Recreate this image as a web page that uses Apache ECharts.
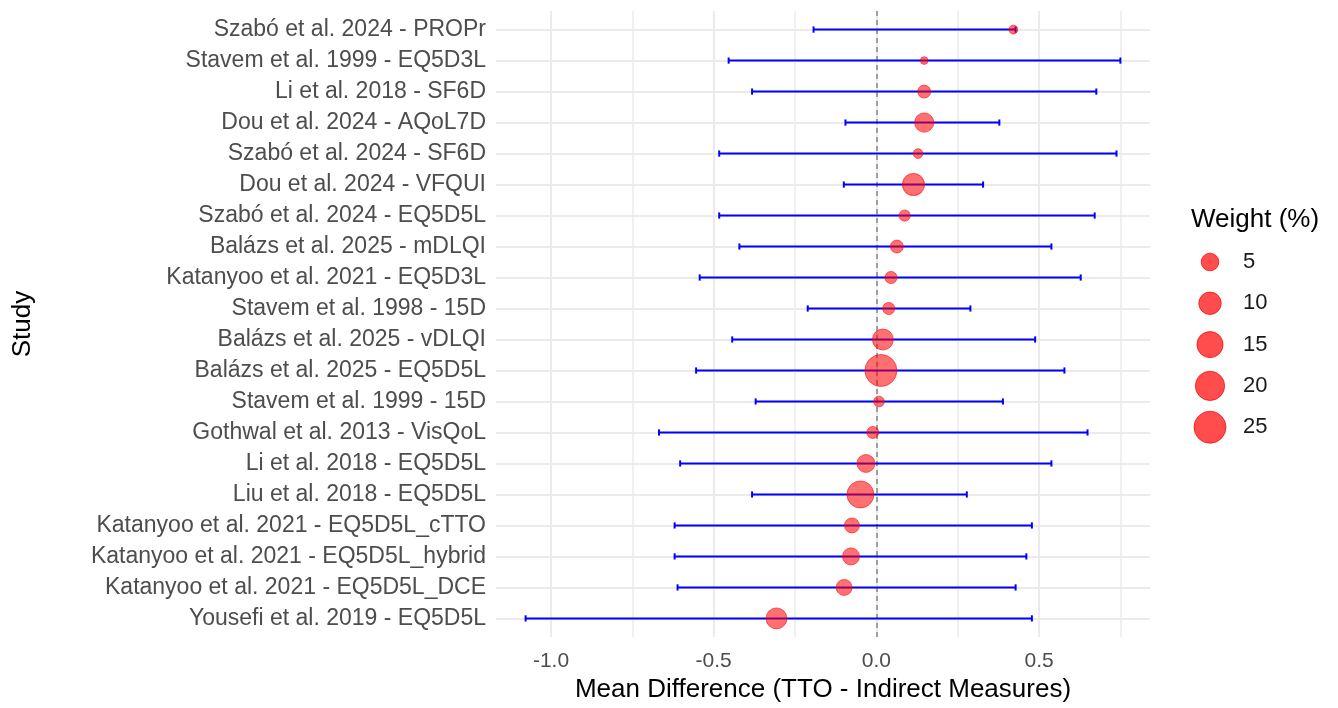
<!DOCTYPE html>
<html>
<head>
<meta charset="utf-8">
<title>Forest plot</title>
<script src="https://cdn.jsdelivr.net/npm/echarts@6.0.0/dist/echarts.min.js"></script>
<style>
  html, body { margin: 0; padding: 0; background: #fff; }
  #chart { width: 1338px; height: 708px; }
</style>
</head>
<body>
<div id="chart"></div>
<script>
// studies from top to bottom
const studies = [
  'Szabó et al. 2024 - PROPr',
  'Stavem et al. 1999 - EQ5D3L',
  'Li et al. 2018 - SF6D',
  'Dou et al. 2024 - AQoL7D',
  'Szabó et al. 2024 - SF6D',
  'Dou et al. 2024 - VFQUI',
  'Szabó et al. 2024 - EQ5D5L',
  'Balázs et al. 2025 - mDLQI',
  'Katanyoo et al. 2021 - EQ5D3L',
  'Stavem et al. 1998 - 15D',
  'Balázs et al. 2025 - vDLQI',
  'Balázs et al. 2025 - EQ5D5L',
  'Stavem et al. 1999 - 15D',
  'Gothwal et al. 2013 - VisQoL',
  'Li et al. 2018 - EQ5D5L',
  'Liu et al. 2018 - EQ5D5L',
  'Katanyoo et al. 2021 - EQ5D5L_cTTO',
  'Katanyoo et al. 2021 - EQ5D5L_hybrid',
  'Katanyoo et al. 2021 - EQ5D5L_DCE',
  'Yousefi et al. 2019 - EQ5D5L'
]
const meanDiff = [0.421, 0.147, 0.147, 0.147, 0.128, 0.114, 0.087, 0.063, 0.045, 0.038,
                  0.020, 0.014, 0.008, -0.011, -0.032, -0.049, -0.075, -0.078, -0.099, -0.307]
const ciLower  = [-0.193, -0.454, -0.382, -0.095, -0.483, -0.100, -0.483, -0.421, -0.543, -0.211,
                  -0.443, -0.554, -0.371, -0.668, -0.603, -0.382, -0.620, -0.620, -0.611, -1.078]
const ciUpper  = [0.428, 0.750, 0.676, 0.378, 0.738, 0.328, 0.671, 0.538, 0.628, 0.289,
                  0.488, 0.578, 0.389, 0.649, 0.538, 0.278, 0.478, 0.461, 0.428, 0.478]
const weights  = [0.3, 0.1, 1.8, 6.5, 0.5, 9.5, 1.0, 1.8, 1.4, 1.4,
                  8.3, 25, 0.8, 1.3, 5.3, 16.3, 3.0, 4.5, 3.7, 8.3]

const xTicks = [-1.0, -0.5, 0.0, 0.5]
const xGridLines = [-1.0, -0.75, -0.5, -0.25, 0.0, 0.25, 0.5, 0.75]
const legendBreaks = [5, 10, 15, 20, 25]

const FONT = 'Liberation Sans, Arial, sans-serif'

// point diameter grows with sqrt of the weight (area scale)
function sizeOf(w) {
  return 6 + 5.2 * Math.sqrt(w)
}

// ggplot-like 5% expansion of the x range
const lo = Math.min(...ciLower), hi = Math.max(...ciUpper)
const pad = (hi - lo) * 0.05

const rowIdx = studies.map((s, i) => i)

const gridMarks = xGridLines.map(v => ({ xAxis: v, lineStyle: { width: Number.isInteger(v * 2) ? 2 : 1.5 } }))
  .concat(rowIdx.map(i => ({ yAxis: i, lineStyle: { width: 2 } })))

let option = {
  backgroundColor: '#ffffff',
  animation: false,
  grid: { left: 496, right: 188, top: 11, bottom: 67 },
  xAxis: {
    type: 'value',
    min: +(lo - pad).toFixed(3),
    max: +(hi + pad).toFixed(3),
    axisLine: { show: false },
    axisTick: { show: false },
    splitLine: { show: false },
    axisLabel: {
      customValues: xTicks,
      formatter: v => v.toFixed(1),
      color: '#4d4d4d',
      fontFamily: FONT,
      fontSize: 21,
      margin: 14
    },
    name: 'Mean Difference (TTO - Indirect Measures)',
    nameLocation: 'middle',
    nameGap: 40,
    nameTextStyle: { color: '#000', fontFamily: FONT, fontSize: 26 }
  },
  yAxis: {
    type: 'value',
    inverse: true,
    min: -0.6,
    max: studies.length - 1 + 0.6,
    axisLine: { show: false },
    axisTick: { show: false },
    splitLine: { show: false },
    axisLabel: {
      customValues: rowIdx,
      formatter: v => studies[Math.round(v)],
      color: '#4d4d4d',
      fontFamily: FONT,
      fontSize: 23,
      margin: 10
    },
    name: 'Study',
    nameLocation: 'middle',
    nameGap: 460,
    nameRotate: 90,
    nameTextStyle: { color: '#000', fontFamily: FONT, fontSize: 26 }
  },
  series: [
    {
      // panel grid lines
      name: 'grid',
      type: 'scatter',
      data: [],
      silent: true,
      z: 0,
      markLine: {
        silent: true,
        z: 0,
        symbol: 'none',
        label: { show: false },
        lineStyle: { color: '#ebebeb', type: 'solid', width: 2 },
        data: gridMarks
      }
    },
    {
      // zero reference line
      name: 'zero',
      type: 'scatter',
      data: [],
      silent: true,
      z: 1,
      markLine: {
        silent: true,
        z: 1,
        symbol: 'none',
        label: { show: false },
        lineStyle: { color: '#8c8c8c', type: [5, 4], width: 1.6 },
        data: [{ xAxis: 0 }]
      }
    },
    {
      name: 'CI',
      type: 'custom',
      z: 2,
      data: rowIdx.map(i => [ciLower[i], ciUpper[i], i]),
      encode: { x: [0, 1], y: 2 },
      renderItem: function (params, api) {
        const y = api.value(2)
        const p0 = api.coord([api.value(0), y])
        const p1 = api.coord([api.value(1), y])
        const h = Math.abs(api.size([0, 0.2])[1]) / 2
        const st = { stroke: '#0000ff', lineWidth: 2, fill: null }
        return {
          type: 'group',
          children: [
            { type: 'line', shape: { x1: p0[0], y1: p0[1], x2: p1[0], y2: p1[1] }, style: st },
            { type: 'line', shape: { x1: p0[0], y1: p0[1] - h, x2: p0[0], y2: p0[1] + h }, style: st },
            { type: 'line', shape: { x1: p1[0], y1: p1[1] - h, x2: p1[0], y2: p1[1] + h }, style: st }
          ]
        }
      }
    },
    {
      name: 'Weight (%)',
      type: 'scatter',
      z: 3,
      data: rowIdx.map(i => [meanDiff[i], i, weights[i]]),
      symbol: 'circle',
      symbolSize: d => sizeOf(d[2]),
      itemStyle: {
        color: 'rgba(255,0,0,0.7)',
        borderColor: 'rgba(255,0,0,0.7)',
        borderWidth: 1
      }
    }
  ],
  graphic: [
    {
      type: 'text',
      x: 1191,
      y: 220,
      style: { text: 'Weight (%)', fill: '#000', font: '26px ' + FONT, verticalAlign: 'middle' }
    }
  ].concat(legendBreaks.flatMap((b, k) => [
    {
      type: 'circle',
      shape: { cx: 1210, cy: 262 + k * 41.3, r: sizeOf(b) / 2 },
      style: { fill: 'rgba(255,0,0,0.7)', stroke: 'rgba(255,0,0,0.7)', lineWidth: 1 }
    },
    {
      type: 'text',
      x: 1243,
      y: 262 + k * 41.3,
      style: { text: String(b), fill: '#1a1a1a', font: '22px ' + FONT, verticalAlign: 'middle' }
    }
  ]))
}

let chart = echarts.init(document.getElementById('chart'))
chart.setOption(option)
</script>
</body>
</html>
